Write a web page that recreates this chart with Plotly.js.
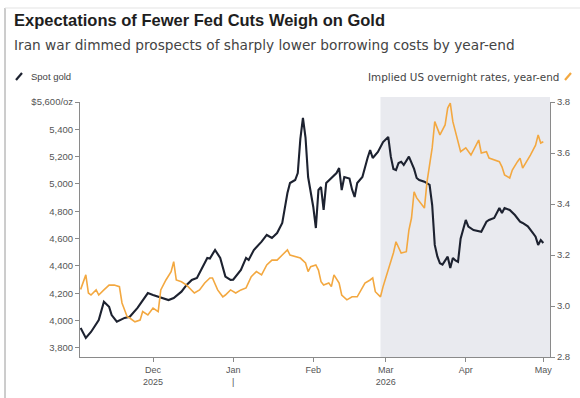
<!DOCTYPE html>
<html>
<head>
<meta charset="utf-8">
<script src="https://cdn.plot.ly/plotly-3.0.1.min.js"></script>
<style>
  html, body { margin: 0; padding: 0; background: #fff; }
  #chart { width: 580px; height: 398px; }
</style>
</head>
<body>
<div id="chart"></div>
<script>
// ---- Data ----
const goldDates = [
  "2025-11-03","2025-11-05","2025-11-07","2025-11-10","2025-11-12","2025-11-14","2025-11-15","2025-11-17",
  "2025-11-20","2025-11-22","2025-11-25","2025-11-27","2025-11-29","2025-12-01","2025-12-03","2025-12-07",
  "2025-12-09","2025-12-12","2025-12-14","2025-12-16","2025-12-18","2025-12-20","2025-12-22","2025-12-23",
  "2025-12-25","2025-12-27","2025-12-29","2025-12-31","2026-01-01","2026-01-04","2026-01-06","2026-01-07",
  "2026-01-09","2026-01-12","2026-01-14","2026-01-16","2026-01-18","2026-01-20","2026-01-21","2026-01-22",
  "2026-01-23","2026-01-25","2026-01-26","2026-01-27","2026-01-28","2026-01-29","2026-01-30","2026-02-01",
  "2026-02-02","2026-02-03","2026-02-04","2026-02-05","2026-02-06","2026-02-08","2026-02-10","2026-02-11",
  "2026-02-12","2026-02-13","2026-02-15","2026-02-16","2026-02-17","2026-02-18","2026-02-20","2026-02-22",
  "2026-02-23","2026-02-24","2026-02-26","2026-02-28","2026-03-02","2026-03-03","2026-03-04","2026-03-05",
  "2026-03-06","2026-03-07","2026-03-08","2026-03-10","2026-03-11","2026-03-12","2026-03-13","2026-03-14",
  "2026-03-16","2026-03-17","2026-03-18","2026-03-19","2026-03-20","2026-03-21","2026-03-22","2026-03-23",
  "2026-03-24","2026-03-25","2026-03-26","2026-03-27","2026-03-28","2026-03-29","2026-03-30","2026-03-31",
  "2026-04-01","2026-04-02","2026-04-04","2026-04-07","2026-04-09","2026-04-10","2026-04-12","2026-04-14",
  "2026-04-15","2026-04-16","2026-04-18","2026-04-20","2026-04-22","2026-04-23","2026-04-25","2026-04-27",
  "2026-04-28","2026-04-29","2026-04-30","2026-05-01"
];
const goldValues = [
  3946,3873,3917,4005,4139,4102,4041,3992,
  4020,4029,4093,4151,4202,4188,4175,4151,
  4166,4212,4261,4298,4312,4385,4459,4455,
  4517,4459,4322,4298,4300,4371,4459,4444,
  4517,4578,4627,4605,4641,4715,4834,4934,
  5007,5029,5080,5330,5483,5340,5051,4832,
  4678,4956,4978,4810,5007,5044,5080,5117,
  4956,5051,5040,4960,4905,5007,5051,5190,
  5249,5190,5234,5307,5344,5200,5110,5102,
  5154,5163,5139,5200,5150,5110,5044,5029,
  5017,5005,4993,4846,4554,4470,4420,4410,
  4444,4468,4385,4459,4440,4430,4600,4680,
  4737,4688,4663,4651,4724,4737,4751,4824,
  4788,4824,4810,4773,4724,4715,4690,4640,
  4614,4554,4590,4568
];

const rateDates = [
  "2025-11-03","2025-11-05","2025-11-06","2025-11-07","2025-11-09","2025-11-10","2025-11-12","2025-11-14",
  "2025-11-16","2025-11-18","2025-11-19","2025-11-21","2025-11-22","2025-11-24","2025-11-26","2025-11-27",
  "2025-11-29","2025-12-01","2025-12-03","2025-12-04","2025-12-06","2025-12-08","2025-12-09","2025-12-10",
  "2025-12-12","2025-12-14","2025-12-17","2025-12-19","2025-12-21","2025-12-23","2025-12-24","2025-12-26",
  "2025-12-28","2025-12-29","2025-12-31","2026-01-02","2026-01-04","2026-01-06","2026-01-08","2026-01-10",
  "2026-01-12","2026-01-14","2026-01-16","2026-01-18","2026-01-20","2026-01-22","2026-01-23","2026-01-25",
  "2026-01-27","2026-01-29","2026-01-30","2026-01-31","2026-02-02","2026-02-03","2026-02-04","2026-02-05",
  "2026-02-07","2026-02-08","2026-02-09","2026-02-11","2026-02-12","2026-02-14","2026-02-16","2026-02-18",
  "2026-02-20","2026-02-21","2026-02-23","2026-02-24","2026-02-25","2026-02-27","2026-02-28","2026-03-02",
  "2026-03-04","2026-03-05","2026-03-07","2026-03-09","2026-03-10","2026-03-11","2026-03-12","2026-03-13",
  "2026-03-15","2026-03-16","2026-03-17","2026-03-19","2026-03-20","2026-03-21","2026-03-22","2026-03-24",
  "2026-03-25","2026-03-26","2026-03-27","2026-03-28","2026-03-30","2026-04-01","2026-04-03","2026-04-05",
  "2026-04-06","2026-04-07","2026-04-09","2026-04-10","2026-04-12","2026-04-14","2026-04-15","2026-04-16",
  "2026-04-18","2026-04-19","2026-04-21","2026-04-22","2026-04-23","2026-04-25","2026-04-26","2026-04-28",
  "2026-04-29","2026-04-30","2026-05-01"
];
const rateValues = [
  3.065,3.122,3.051,3.043,3.063,3.043,3.063,3.082,
  3.082,3.076,3.012,2.958,2.953,2.938,2.945,2.978,
  2.965,2.992,2.978,3.063,3.102,3.135,3.174,3.102,
  3.095,3.082,3.051,3.063,3.090,3.110,3.110,3.063,
  3.036,3.043,3.063,3.051,3.063,3.071,3.115,3.135,
  3.122,3.161,3.180,3.180,3.200,3.220,3.200,3.193,
  3.188,3.169,3.135,3.154,3.161,3.141,3.095,3.082,
  3.090,3.076,3.122,3.090,3.043,3.024,3.036,3.036,
  3.076,3.090,3.102,3.110,3.056,3.036,3.076,3.141,
  3.208,3.252,3.208,3.213,3.298,3.345,3.448,3.424,
  3.396,3.384,3.487,3.620,3.723,3.698,3.671,3.710,
  3.776,3.796,3.723,3.684,3.605,3.620,3.592,3.631,
  3.651,3.600,3.605,3.580,3.573,3.566,3.546,3.514,
  3.502,3.533,3.566,3.580,3.541,3.573,3.592,3.631,
  3.671,3.639,3.644
];

const goldTickVals = [3800,4000,4200,4400,4600,4800,5000,5200,5400,5600];
const goldTickText = ["3,800","4,000","4,200","4,400","4,600","4,800","5,000","5,200","5,400","$5,600/oz"];
const rateTickVals = [2.8,3.0,3.2,3.4,3.6,3.8];
const rateTickText = ["2.8","3.0","3.2","3.4","3.6","3.8"];
const monthTickVals = ["2025-12-01","2026-01-01","2026-02-01","2026-03-01","2026-04-01","2026-05-01"];
const monthTickText = ["Dec<br>2025","Jan<br>|","Feb","Mar<br>2026","Apr","May"];
const warStart = "2026-02-27";

// ---- Styles ----
const FONT = "Liberation Sans, Arial, sans-serif";
const WIDE = "DejaVu Sans, Verdana, sans-serif";
const GOLD_COLOR = "#1d2230";
const RATE_COLOR = "#f3a840";
const AXIS_COLOR = "#8a8a8a";
const TICK_FONT = {family: FONT, size: 9.5, color: "#555"};

const traces = [
  {
    x: rateDates, y: rateValues, yaxis: "y2", type: "scatter", mode: "lines",
    name: "Implied US overnight rates, year-end",
    line: {color: RATE_COLOR, width: 1.6}, hoverinfo: "skip"
  },
  {
    x: goldDates, y: goldValues, type: "scatter", mode: "lines",
    name: "Spot gold",
    line: {color: GOLD_COLOR, width: 2.1}, hoverinfo: "skip"
  }
];

// plot area: left 80, right 550, top 102, bottom 357 (px)
const L = 80, R = 550, T = 102, B = 357;
const px = v => (v - L) / (R - L);
const py = v => (B - v) / (B - T);

const layout = {
  width: 580, height: 398,
  margin: {l: L, r: 580 - R, t: T, b: 398 - B, pad: 0},
  paper_bgcolor: "#ffffff", plot_bgcolor: "#ffffff",
  showlegend: false,
  font: {family: FONT, color: "#333"},
  xaxis: {
    type: "date",
    range: ["2025-11-02 18:00", "2026-05-03 14:00"],
    tickvals: monthTickVals, ticktext: monthTickText,
    ticks: "outside", ticklen: 4, tickcolor: AXIS_COLOR, tickwidth: 1,
    showline: true, linecolor: AXIS_COLOR, linewidth: 1,
    showgrid: false, zeroline: false,
    tickfont: {family: FONT, size: 9, color: "#555"}
  },
  yaxis: {
    range: [3734, 5600],
    tickvals: goldTickVals, ticktext: goldTickText,
    ticks: "outside", ticklen: 4, tickcolor: AXIS_COLOR,
    showline: true, linecolor: AXIS_COLOR, linewidth: 1,
    showgrid: false, zeroline: false,
    tickfont: TICK_FONT
  },
  yaxis2: {
    overlaying: "y", side: "right",
    range: [2.8, 3.8],
    tickvals: rateTickVals, ticktext: rateTickText,
    ticks: "outside", ticklen: 4, tickcolor: AXIS_COLOR,
    showline: true, linecolor: AXIS_COLOR, linewidth: 1,
    showgrid: false, zeroline: false,
    tickfont: TICK_FONT
  },
  shapes: [
    {type: "rect", xref: "x", yref: "paper", x0: warStart, x1: "2026-05-03 14:00",
     y0: 0, y1: 1.02, fillcolor: "#e9eaef", line: {width: 0}, layer: "below"},
    // outer frame (left + top)
    {type: "line", xref: "paper", yref: "paper", x0: px(5), x1: px(5), y0: py(8), y1: py(398),
     line: {color: "#9a9a9a", width: 1}},
    {type: "line", xref: "paper", yref: "paper", x0: px(5), x1: px(580), y0: py(8), y1: py(8),
     line: {color: "#e3e3e3", width: 1}},
    // legend icons
    {type: "line", xref: "paper", yref: "paper", x0: px(16), x1: px(22), y0: py(80), y1: py(73),
     line: {color: GOLD_COLOR, width: 2.2}},
    {type: "line", xref: "paper", yref: "paper", x0: px(565), x1: px(571), y0: py(80), y1: py(73),
     line: {color: RATE_COLOR, width: 2.2}}
  ],
  annotations: [
    {xref: "paper", yref: "paper", x: px(12), y: py(20), xanchor: "left", yanchor: "middle",
     text: "<b>Expectations of Fewer Fed Cuts Weigh on Gold</b>", showarrow: false,
     font: {family: FONT, size: 16.5, color: "#1e1e1e"}},
    {xref: "paper", yref: "paper", x: px(12), y: py(45), xanchor: "left", yanchor: "middle",
     text: "Iran war dimmed prospects of sharply lower borrowing costs by year-end", showarrow: false,
     font: {family: WIDE, size: 13.7, color: "#444"}},
    {xref: "paper", yref: "paper", x: px(29), y: py(77), xanchor: "left", yanchor: "middle",
     text: "Spot gold", showarrow: false,
     font: {family: FONT, size: 9.5, color: "#444"}},
    {xref: "paper", yref: "paper", x: px(561), y: py(77), xanchor: "right", yanchor: "middle",
     text: "Implied US overnight rates, year-end", showarrow: false,
     font: {family: WIDE, size: 10.4, color: "#444"}}
  ]
};

Plotly.newPlot("chart", traces, layout, {staticPlot: true, displayModeBar: false});
</script>
</body>
</html>
